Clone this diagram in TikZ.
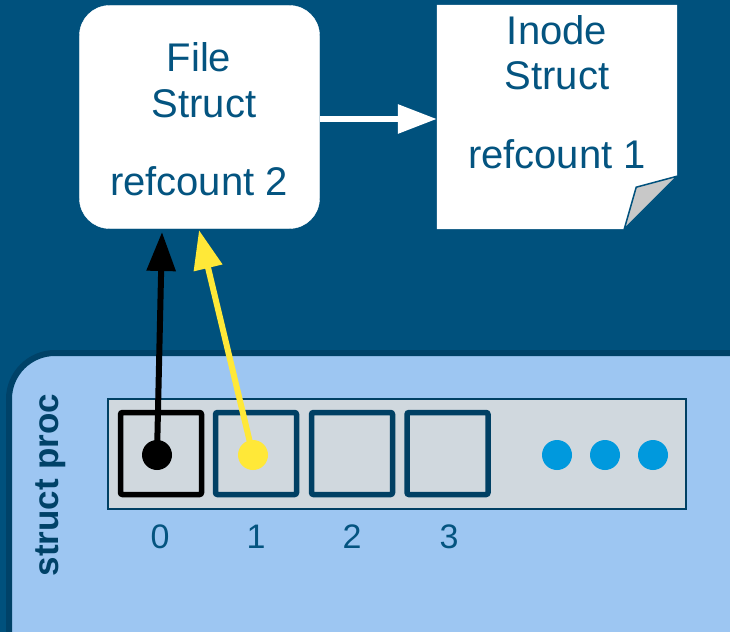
\documentclass[tikz,border=0pt]{standalone}
\usepackage{fontspec}
\setmainfont{Liberation Sans}
\usetikzlibrary{arrows.meta}
\definecolor{bgblue}{RGB}{0,81,125}
\definecolor{procfill}{RGB}{157,198,242}
\definecolor{procborder}{RGB}{0,66,104}
\definecolor{cellgray}{RGB}{208,216,222}
\definecolor{cellborder}{RGB}{0,64,100}
\definecolor{textblue}{RGB}{4,84,128}
\definecolor{dotblue}{RGB}{0,153,221}
\definecolor{ptryellow}{RGB}{255,232,56}
\definecolor{foldgray}{RGB}{200,200,200}
\tikzset{
  bigtext/.style={text=textblue, inner sep=0pt, font=\fontsize{40bp}{46bp}\selectfont},
  digit/.style={text=textblue, inner sep=0pt, font=\fontsize{34bp}{40bp}\selectfont},
  cellbox/.style={draw=cellborder, line width=5.5bp, rounded corners=2bp, minimum width=81bp, minimum height=82bp, inner sep=0pt},
  dotnode/.style={circle, minimum size=30bp, inner sep=0pt},
  ptr/.style={line width=6bp, -{Triangle[length=39bp,width=28bp]}},
}
\begin{document}
\begin{tikzpicture}[x=1bp,y=-1bp]
\useasboundingbox (0,0) rectangle (730,632);
\clip (0,0) rectangle (730,632);
\fill[bgblue] (0,0) rectangle (730,632);
% struct proc container
\draw[procborder, fill=procfill, line width=6bp, rounded corners=46bp] (9,353) rectangle (790,700);
\node[text=procborder, font=\fontsize{35bp}{40bp}\selectfont\bfseries, rotate=90, inner sep=0pt] (procl) at (51,485) {struct proc};
% array
\node[draw=cellborder, fill=cellgray, line width=1.2bp, minimum width=578bp, minimum height=110bp, inner sep=0pt] (arr) at (397,454) {};
\node[cellbox, draw=black] (c0) at (161,453.5) {};
\node[cellbox] (c1) at (256,453.5) {};
\node[cellbox] (c2) at (352,453.5) {};
\node[cellbox] (c3) at (447.5,453.5) {};
\node[dotnode, fill=dotblue] (d1) at (557,455) {};
\node[dotnode, fill=dotblue] (d2) at (605,455) {};
\node[dotnode, fill=dotblue] (d3) at (653,455) {};
\node[digit] (n0) at (160,537) {0};
\node[digit] (n1) at (256,537) {1};
\node[digit] (n2) at (352,537) {2};
\node[digit] (n3) at (449,537) {3};
% file struct
\node[fill=white, draw=white, rounded corners=30bp, minimum width=240bp, minimum height=223bp, inner sep=0pt] (file) at (199.5,117) {};
\node[bigtext] (ft1) at (199,57) {File};
\node[bigtext] (ft2) at (204,104) {Struct};
\node[bigtext] (ft3) at (199,181) {refcount 2};
% inode struct
\node[minimum width=240bp, minimum height=224bp, inner sep=0pt] (inode) at (557,117) {};
\fill[white] (inode.north west) -- (inode.north east) -- ([yshift=53bp]inode.south east) -- ([xshift=-53bp]inode.south east) -- (inode.south west) -- cycle;
\draw[fill=foldgray, draw=bgblue, line width=1.5bp, line join=round] ([yshift=53bp]inode.south east) -- ([xshift=-41bp,yshift=42bp]inode.south east) -- ([xshift=-53bp]inode.south east) -- cycle;
\node[bigtext] (it1) at (557,30) {Inode};
\node[bigtext] (it2) at (557,76) {Struct};
\node[bigtext] (it3) at (557,154) {refcount 1};
% arrows
\draw[ptr, white] (file.east |- 0,119) -- (inode.west |- 0,119);
\node[dotnode, fill=black] (p0) at (157,455) {};
\node[dotnode, fill=ptryellow] (p1) at (253,455) {};
\coordinate (t0) at (162,232);
\coordinate (t1) at (199,230);
\draw[ptr, black] (p0.center) -- (t0);
\draw[ptr, ptryellow] (p1.center) -- (t1);
\end{tikzpicture}
\end{document}
